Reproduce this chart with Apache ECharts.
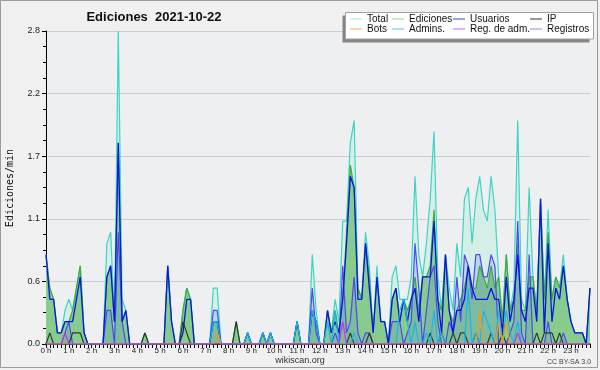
<!DOCTYPE html>
<html><head><meta charset="utf-8">
<script src="https://cdn.jsdelivr.net/npm/echarts@6/dist/echarts.min.js"></script>
<style>html,body{margin:0;padding:0;background:#f0f0f0}#c{width:600px;height:370px}</style>
</head><body><div id="c"></div>
<script>
// 10-minute steps, 144 points (edits per minute)
const hourLabels = ['0 h','1 h','2 h','3 h','4 h','5 h','6 h','7 h','8 h','9 h','10 h','11 h','12 h','13 h','14 h','15 h','16 h','17 h','18 h','19 h','20 h','21 h','22 h','23 h'];
const yTicks = [0, 0.56, 1.12, 1.68, 2.24, 2.8];

const total = [
0.8,0.5,0.4,0.1,0.1,0.3,0.4,0.3,0.5,0.7,0.1,0,
0,0,0,0,0.9,1.0,0.2,2.8,0.4,0.3,0,0,
0,0,0.1,0,0,0,0,0,0.7,0.2,0,0,
0.3,0.5,0.4,0,0,0,0,0,0.5,0.5,0,0,
0,0,0.2,0,0,0.1,0,0,0,0.1,0,0.1,
0,0,0,0,0,0,0.2,0,0,0,0.8,0.3,
0,0,0.3,0.1,0.4,0.2,1.1,1.1,1.8,2.0,0.5,0.4,
1.0,0.7,0.1,0.7,0.2,0.2,0,0.6,0.7,0.4,0.4,0.4,
0.6,1.5,0.8,0.6,0.9,1.3,1.9,0.6,0.3,0.8,0.5,0.3,
0.9,0.6,1.3,1.4,0.9,1.3,1.5,1.2,1.1,1.5,1.2,0.6,
0.2,0.8,0.3,0.5,2.0,0.4,0.3,1.4,0.6,0.3,1.3,0.4,
1.2,0.4,0.6,0.5,0.8,0.4,0.2,0.1,0.1,0.1,0,0.5];

const ediciones = [
0.8,0.5,0.4,0.1,0.1,0.2,0.2,0.3,0.5,0.7,0.1,0,
0,0,0,0,0.6,0.7,0.2,1.8,0.2,0.3,0,0,
0,0,0.1,0,0,0,0,0,0.7,0.2,0,0,
0.3,0.5,0.4,0,0,0,0,0,0.2,0.2,0,0,
0,0,0.2,0,0,0.1,0,0,0,0.1,0,0.1,
0,0,0,0,0,0,0.2,0,0,0,0.3,0.2,
0,0,0.3,0.1,0.3,0.1,0.4,1.0,1.6,1.4,0.5,0.4,
0.9,0.6,0.1,0.6,0.2,0.2,0,0.4,0.5,0.2,0.4,0.3,
0.4,0.6,0.3,0.6,0.6,0.7,1.2,0.4,0.3,0.8,0.3,0.2,
0.3,0.4,0.5,0.7,0.5,0.5,0.7,0.6,0.5,0.7,0.5,0.6,
0.2,0.8,0.3,0.4,0.9,0.3,0.3,0.6,0.6,0.3,1.3,0.4,
1.0,0.4,0.6,0.5,0.7,0.4,0.2,0.1,0.1,0.1,0,0.5];

const usuarios = [
0.8,0.4,0.4,0.1,0.1,0.2,0.2,0.2,0.4,0.6,0.1,0,
0,0,0,0,0.6,0.7,0.2,1.8,0.2,0.3,0,0,
0,0,0,0,0,0,0,0,0.7,0.2,0,0,
0.1,0.4,0.4,0,0,0,0,0,0.2,0.2,0,0,
0,0,0,0,0,0.1,0,0,0,0.1,0,0.1,
0,0,0,0,0,0,0.2,0,0,0,0.3,0.2,
0,0,0.3,0.1,0.2,0.1,0.4,0.9,1.5,1.4,0.4,0.4,
0.9,0.5,0.1,0.6,0.2,0.2,0,0.4,0.5,0.2,0.4,0.2,
0.4,0.5,0.2,0.6,0.6,0.6,1.1,0.4,0.1,0.8,0.3,0.1,
0.3,0.3,0.4,0.7,0.5,0.4,0.4,0.4,0.4,0.5,0.4,0.4,
0.1,0.6,0.2,0.4,0.8,0.3,0.2,0.5,0.5,0.2,1.3,0.1,
0.9,0.2,0.5,0.4,0.7,0.4,0.2,0.1,0.1,0.1,0,0.5];

const ip = [
0,0.1,0,0,0,0,0,0.1,0.1,0.1,0,0,
0,0,0,0,0,0,0,0,0,0,0,0,
0,0,0.1,0,0,0,0,0,0,0,0,0,
0.2,0.1,0,0,0,0,0,0,0,0,0,0,
0,0,0.2,0,0,0,0,0,0,0,0,0,
0,0,0,0,0,0,0,0,0,0,0,0,
0,0,0,0,0,0,0,0,0.1,0,0,0,
0,0.1,0,0,0,0,0,0,0,0,0,0,
0,0,0,0,0,0.1,0,0,0.1,0,0,0.1,
0,0.1,0.1,0,0,0.1,0,0,0,0.1,0,0,
0.1,0,0,0,0,0,0,0,0,0.1,0,0.1,
0.1,0.1,0,0.1,0,0,0,0,0,0,0,0];

const bots = [
0,0,0,0,0,0,0,0,0,0,0,0,
0,0,0,0,0,0,0,0,0,0,0,0,
0,0,0,0,0,0,0,0,0,0,0,0,
0,0,0,0,0,0,0,0,0,0.1,0,0,
0,0,0,0,0,0,0,0,0,0,0,0,
0,0,0,0,0,0,0,0,0,0,0,0,
0,0,0,0,0,0,0,0,0,0,0,0,
0,0,0,0,0,0,0,0,0,0,0,0,
0,0,0,0,0,0,0,0,0,0,0,0,
0,0,0,0,0,0,0.3,0,0,0,0,0.2,
0,0.2,0,0,0,0,0,0,0,0,0,0,
0,0,0,0,0,0,0,0,0,0,0,0];

const admins = [
0,0,0,0,0,0,0,0,0,0,0,0,
0,0,0,0,0,0,0,0,0,0,0,0,
0,0,0,0,0,0,0,0,0,0,0,0,
0,0,0,0,0,0,0,0,0.2,0.2,0,0,
0,0,0,0,0,0.1,0,0,0,0.1,0,0.1,
0,0,0,0,0,0,0.2,0,0,0,0.3,0.2,
0,0,0.2,0,0.3,0,0,0,0,0.1,0,0,
0,0,0,0,0,0,0,0,0,0.3,0.4,0.2,
0,0.2,0,0,0.1,0,0.3,0,0.1,0,0,0,
0,0,0,0.5,0,0.1,0,0.3,0.2,0.1,0,0.3,
0,0.3,0.1,0,0.2,0,0,0,0,0,0,0,
0,0,0,0,0,0,0,0,0,0,0,0];

const regAdm = [
0,0,0,0,0,0.1,0,0,0,0,0,0,
0,0,0,0,0,0,0,0,0,0,0,0,
0,0,0,0,0,0,0,0,0,0,0,0,
0,0,0,0,0,0,0,0,0,0,0,0,
0,0,0,0,0,0,0,0,0,0,0,0,
0,0,0,0,0,0,0,0,0,0,0,0,
0,0,0,0,0,0,0.2,0,0,0,0,0,
0,0,0,0,0,0,0,0,0,0,0,0,
0,0,0,0,0,0,0,0,0,0,0,0,
0,0,0,0,0,0,0,0,0,0,0,0,
0,0,0,0,0.1,0,0,0,0,0,0,0,
0,0,0,0,0,0,0,0,0,0,0,0];

const registros = [
0,0,0,0,0,0.1,0.2,0,0,0,0,0,
0,0,0,0,0.3,0.3,0,1.0,0.2,0,0,0,
0,0,0,0,0,0,0,0,0,0,0,0,
0,0,0,0,0,0,0,0,0.3,0.3,0,0,
0,0,0,0,0,0,0,0,0,0,0,0,
0,0,0,0,0,0,0,0,0,0,0.5,0.1,
0,0,0,0,0.1,0,0.7,0.1,0.2,0.6,0.1,0,
0.1,0.1,0,0,0,0,0,0.2,0.2,0.2,0,0.1,
0.2,0.9,0.5,0,0.3,0.6,0.7,0.2,0,0,0.2,0.1,
0.6,0.2,0.8,0.7,0.4,0.8,0.8,0.6,0.6,0.8,0.7,0,
0,0,0.1,0.2,1.1,0.1,0,0.8,0,0,0,0,
0.2,0,0,0,0.1,0,0,0,0,0,0,0];

const pts = a => a.map((v, i) => [i, v]);
const chart = echarts.init(document.getElementById('c'), null, {renderer: 'canvas'});

function lineSeries(name, data, color, width) {
  return {name, type: 'line', data: pts(data), symbol: 'none', showSymbol: false,
    lineStyle: {color, width: width || 1.2}, itemStyle: {color}, animation: false, silent: true};
}
function areaSeries(name, data, fill) {
  return {name, type: 'line', data: pts(data), symbol: 'none', showSymbol: false,
    lineStyle: {width: 0, opacity: 0}, areaStyle: {color: fill, opacity: 1}, animation: false, silent: true};
}

const legendFont = {fontSize: 10, fontFamily: '"Liberation Sans", Arial, sans-serif', color: '#111', lineHeight: 10, padding: 0};
function legendCol(left, items) {
  return {orient: 'vertical', left, top: 14, padding: 0, itemWidth: 12, itemHeight: 1, itemGap: 0, icon: 'rect',
    selectedMode: false, z: 120, textStyle: legendFont,
    data: items.map(([name, color]) => ({name, itemStyle: {color}}))};
}

chart.setOption({
  backgroundColor: '#f0f0f0',
  animation: false,
  grid: {left: 46, right: 10, top: 31, bottom: 26, show: true, backgroundColor: '#edeff1', borderWidth: 0},
  xAxis: {
    type: 'value', min: 0, max: 143, interval: 6,
    axisLine: {show: true, onZero: false, lineStyle: {color: '#000', width: 1.5}},
    axisTick: {show: true, length: 4, lineStyle: {color: '#000'}},
    minorTick: {show: true, splitNumber: 6, length: 4, lineStyle: {color: '#000'}},
    splitLine: {show: false},
    axisLabel: {fontSize: 8, color: '#222', margin: 3, fontFamily: '"Liberation Sans", Arial, sans-serif',
      formatter: v => (v % 6 === 0 ? hourLabels[v / 6] : '')}
  },
  yAxis: {
    type: 'value', min: yTicks[0], max: yTicks[yTicks.length - 1], interval: yTicks[1],
    axisLine: {show: true, lineStyle: {color: '#000'}},
    axisTick: {show: true, length: 4, lineStyle: {color: '#000'}},
    minorTick: {show: true, splitNumber: 4, length: 3, lineStyle: {color: '#000'}},
    splitLine: {show: true, lineStyle: {color: '#cbcccf', width: 1}},
    axisLabel: {fontSize: 9, color: '#222', margin: 6, fontFamily: '"Liberation Sans", Arial, sans-serif',
      formatter: v => v.toFixed(1)}
  },
  legend: [
    legendCol(350, [['Total', '#a6e6dc'], ['Bots', '#f0a848']]),
    legendCol(392, [['Ediciones', '#8fd68f'], ['Admins.', '#50c8e0']]),
    legendCol(453, [['Usuarios', '#4040dc'], ['Reg. de adm.', '#d060d8']]),
    legendCol(530, [['IP', '#333333'], ['Registros', '#8a8af0']])
  ],
  series: [
    areaSeries('_fillTotal', total, '#d5efe8'),
    areaSeries('_fillEd', ediciones, 'rgba(105,188,105,0.72)'),
    areaSeries('_fillReg', registros, 'rgba(90,130,230,0.22)'),
    lineSeries('Total', total, '#3fd4c2'),
    lineSeries('Ediciones', ediciones, '#3bab3b'),
    lineSeries('Registros', registros, '#4a4af0'),
    lineSeries('Usuarios', usuarios, '#0a14e6', 1.3),
    lineSeries('IP', ip, '#2d3a2d'),
    lineSeries('Admins.', admins, '#1eb4e6'),
    lineSeries('Bots', bots, '#f09a20'),
    lineSeries('Reg. de adm.', regAdm, '#d22ee0')
  ],
  graphic: [
    {type: 'rect', z: 1, silent: true, shape: {x: 0.5, y: 0.5, width: 597, height: 367},
      style: {fill: 'none', stroke: '#9a9a9a', lineWidth: 1}},
    {type: 'rect', z: 100, silent: true, shape: {x: 342.5, y: 15.5, width: 247, height: 27},
      style: {fill: '#858585'}},
    {type: 'rect', z: 101, silent: true, shape: {x: 345.5, y: 12.5, width: 248, height: 26.5},
      style: {fill: '#ffffff', stroke: '#a0a0a0', lineWidth: 1}},
    {type: 'text', z: 101, silent: true, x: 154, y: 17,
      style: {text: 'Ediciones  2021-10-22', font: 'bold 13px "Liberation Sans", Arial, sans-serif',
        fill: '#111', textAlign: 'center', textVerticalAlign: 'middle', verticalAlign: 'middle'}},
    {type: 'text', z: 101, silent: true, x: 10, y: 188, rotation: Math.PI / 2,
      style: {text: 'Ediciones/min', font: '10px "DejaVu Sans Mono", monospace',
        fill: '#111', textAlign: 'center', textVerticalAlign: 'middle', verticalAlign: 'middle'}},
    {type: 'text', z: 101, silent: true, x: 300, y: 361,
      style: {text: 'wikiscan.org', font: '9px "Liberation Sans", Arial, sans-serif',
        fill: '#333', textAlign: 'center', textVerticalAlign: 'middle', verticalAlign: 'middle'}},
    {type: 'text', z: 101, silent: true, x: 569, y: 362,
      style: {text: 'CC BY-SA 3.0', font: '7px "Liberation Sans", Arial, sans-serif',
        fill: '#444', textAlign: 'center', textVerticalAlign: 'middle', verticalAlign: 'middle'}}
  ]
});
</script></body></html>
